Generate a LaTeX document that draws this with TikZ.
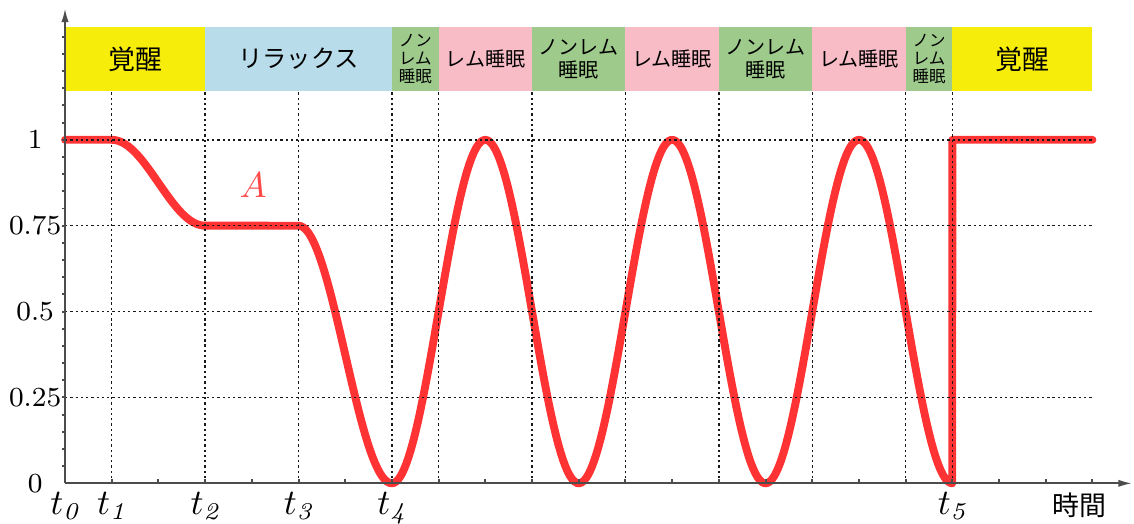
\documentclass[tikz,border=0pt]{standalone}
\usepackage{fontspec}
\newfontfamily\jpfont{Noto Sans CJK JP}
\usetikzlibrary{arrows.meta}
\definecolor{wakecol}{RGB}{247,237,10}
\definecolor{relaxcol}{RGB}{184,220,234}
\definecolor{nremcol}{RGB}{158,203,140}
\definecolor{remcol}{RGB}{247,188,198}
\definecolor{curvecol}{RGB}{255,51,51}
\definecolor{labelcol}{RGB}{255,72,72}
\begin{document}
\begin{tikzpicture}[x=0.5cm,y=3.678cm,
gridline/.style={dash pattern=on 0.7pt off 0.9pt,line width=0.45pt,black!90},
axisline/.style={line width=0.6pt,black!70},
curveline/.style={line width=2.4pt,curvecol,line join=round,line cap=round},
ticklabel/.style={font=\fontsize{8.4}{9}\selectfont,inner sep=0pt},
tlabel/.style={font=\fontsize{10.5}{11}\selectfont,anchor=north,inner sep=0pt},
jpbig/.style={font=\jpfont\fontsize{8.2}{9}\selectfont,inner sep=0pt},
jprelax/.style={font=\jpfont\fontsize{7.4}{8}\selectfont,inner sep=0pt},
jpmid/.style={font=\jpfont\fontsize{6.1}{6.9}\selectfont,align=center,inner sep=0pt},
jpsmall/.style={font=\jpfont\fontsize{5}{5.6}\selectfont,align=center,inner sep=0pt}]
\useasboundingbox(-1.392,-0.1156)rectangle(22.89,1.407);
\foreach \a/\b/\c in{0/3/wakecol,3/7/relaxcol,7/8/nremcol,8/10/remcol,10/12/nremcol,
12/14/remcol,14/16/nremcol,16/18/remcol,18/19/nremcol,19/22/wakecol}
\fill[\c](\a,1.143)rectangle(\b,1.328);
\node[jpbig](wake1)at(1.5,1.2355){覚醒};
\node[jprelax](relax)at(5,1.2355){リラックス};
\node[jpsmall](nrem1)at(7.5,1.2355){ノン\\レム\\睡眠};
\node[jpmid](rem1)at(9,1.2355){レム睡眠};
\node[jpmid](nrem2)at(11,1.2355){ノンレム\\睡眠};
\node[jpmid](rem2)at(13,1.2355){レム睡眠};
\node[jpmid](nrem3)at(15,1.2355){ノンレム\\睡眠};
\node[jpmid](rem3)at(17,1.2355){レム睡眠};
\node[jpsmall](nrem4)at(18.5,1.2355){ノン\\レム\\睡眠};
\node[jpbig](wake2)at(20.5,1.2355){覚醒};
\draw[curveline](0,1)--(1,1)--plot[domain=1:3,samples=40](\x,{0.875+0.125*cos(90*(\x-1))})
--(5,0.75)--plot[domain=5:7,samples=40](\x,{0.375+0.375*cos(90*(\x-5))})
--plot[domain=7:19,samples=240](\x,{0.5-0.5*cos(90*(\x-7))})--(19,1)--(22,1);
\foreach \y in{0.25,0.5,0.75,1}
\draw[gridline](0,\y)--(22,\y);
\foreach \x in{1,3,5,7,8,10,12,14,16,18,19}
\draw[gridline](\x,0)--(\x,1.143);
\foreach \x in{1,...,22}
\draw[axisline](\x,0)--(\x,0.013);
\foreach \y in{1,...,26}
\draw[axisline](0,{\y*0.05})--(-0.07,{\y*0.05});
\draw[axisline,-{Latex[length=4.2pt,width=2.2pt]}](0,0)--(22.85,0);
\draw[axisline,-{Latex[length=4.2pt,width=2.2pt]}](0,0)--(0,1.383);
\foreach \y[count=\i] in{0,0.25,0.5,0.75,1}
\node[ticklabel](ylab\i)at(-0.64,\y){\y};
\foreach \x/\i in{0/0,1/1,3/2,5/3,7/4,19/5}
\node[tlabel](t\i)at(\x,-0.023){$t_{\mathit{\i}}$};
\node[jpbig](time)at(21.73,-0.063){時間};
\node[font=\fontsize{11}{12}\selectfont,text=labelcol](alabel)at(4.03,0.868){$A$};
\end{tikzpicture}
\end{document}
